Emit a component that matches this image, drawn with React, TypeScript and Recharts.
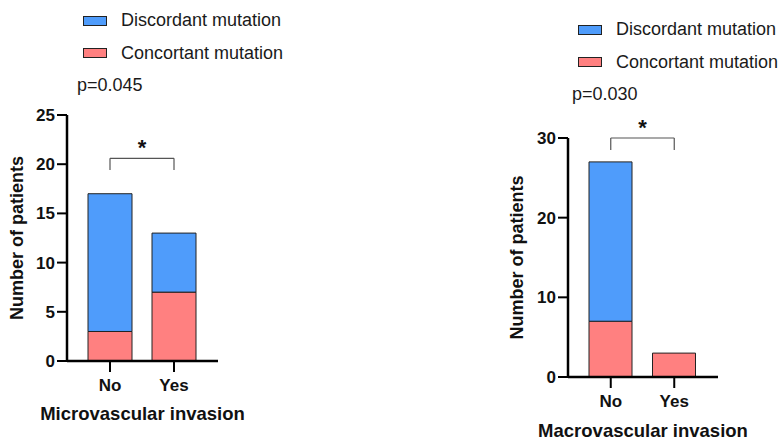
import React from "react";
import { BarChart, Bar, XAxis, YAxis, ReferenceLine } from "recharts";

const categories = ["No", "Yes"];

const microConcordant = [3, 7];
const microDiscordant = [14, 6];
const microTicks = [0, 5, 10, 15, 20, 25];

const macroConcordant = [7, 3];
const macroDiscordant = [20, 0];
const macroTicks = [0, 10, 20, 30];

// significance bracket: top of bracket and end of its legs, in axis units
const microBracket = [20.6, 19.4];
const macroBracket = [30, 28.5];

const FONT = '"Liberation Sans", Arial, sans-serif';
const BLUE = "#4f9cfb";
const PINK = "#ff8080";

const buildRows = (concordant: number[], discordant: number[]) =>
  categories.map((name, i) => ({ name, concordant: concordant[i], discordant: discordant[i] }));

function YLabel({ viewBox }: any) {
  const cx = viewBox.x + 23;
  const cy = viewBox.y + viewBox.height / 2;
  return (
    <text
      x={cx}
      y={cy}
      transform={`rotate(-90 ${cx} ${cy})`}
      textAnchor="middle"
      fontFamily={FONT}
      fontWeight="bold"
      fontSize={18}
      fill="#111"
    >
      Number of patients
    </text>
  );
}

function Legend({ left, top, pValue }: { left: number; top: number; pValue: string }) {
  const swatch = (color: string) => ({
    position: "absolute" as const,
    left: 0,
    width: 22,
    height: 8,
    background: color,
    border: "1px solid #222",
  });
  const text = {
    position: "absolute" as const,
    fontFamily: FONT,
    fontSize: 18,
    lineHeight: "18px",
    color: "#1a1a1a",
    whiteSpace: "nowrap" as const,
  };
  return (
    <div style={{ position: "absolute", left, top }}>
      <div style={{ ...swatch(BLUE), top: 3 }} />
      <div style={{ ...text, left: 38, top: -2 }}>Discordant mutation</div>
      <div style={{ ...swatch(PINK), top: 35 }} />
      <div style={{ ...text, left: 38, top: 31 }}>Concortant mutation</div>
      <div style={{ ...text, left: -6, top: 63 }}>{pValue}</div>
    </div>
  );
}

interface PanelProps {
  left: number;
  top: number;
  height: number;
  marginTop: number;
  marginBottom: number;
  axisWidth: number;
  barSize: number;
  titleOffset: number;
  concordant: number[];
  discordant: number[];
  ticks: number[];
  bracket: number[];
  title: string;
}

function Panel(p: PanelProps) {
  const data = buildRows(p.concordant, p.discordant);
  const max = p.ticks[p.ticks.length - 1];
  const [hi, lo] = p.bracket;
  return (
    <div style={{ position: "absolute", left: p.left, top: p.top }}>
      <BarChart
        width={270}
        height={p.height}
        data={data}
        margin={{ top: p.marginTop, right: 52, bottom: p.marginBottom, left: 0 }}
        style={{ overflow: "visible" }}
      >
        <XAxis
          dataKey="name"
          height={30}
          padding={{ left: 11, right: 12 }}
          tickSize={11}
          tickMargin={7}
          interval={0}
          axisLine={{ stroke: "#000", strokeWidth: 2.5 }}
          tickLine={{ stroke: "#000", strokeWidth: 2 }}
          tick={{ fontFamily: FONT, fontWeight: "bold", fontSize: 17, fill: "#111" }}
          label={{
            value: p.title,
            position: "bottom",
            offset: p.titleOffset,
            fontFamily: FONT,
            fontWeight: "bold",
            fontSize: 18.5,
            fill: "#111",
          }}
        />
        <YAxis
          width={p.axisWidth}
          domain={[0, max]}
          ticks={p.ticks}
          tickSize={10}
          tickMargin={2}
          allowDataOverflow
          axisLine={{ stroke: "#000", strokeWidth: 2.5 }}
          tickLine={{ stroke: "#000", strokeWidth: 2 }}
          tick={{ fontFamily: FONT, fontWeight: "bold", fontSize: 17, fill: "#111" }}
          label={<YLabel />}
        />
        <Bar dataKey="concordant" stackId="a" fill={PINK} stroke="#222" strokeWidth={1} barSize={p.barSize} isAnimationActive={false} />
        <Bar dataKey="discordant" stackId="a" fill={BLUE} stroke="#222" strokeWidth={1} barSize={p.barSize} isAnimationActive={false} />
        <ReferenceLine
          segment={[{ x: "No", y: hi }, { x: "Yes", y: hi }]}
          stroke="#555"
          strokeWidth={1.2}
          ifOverflow="visible"
          label={{ value: "*", position: "top", offset: 3, fontFamily: FONT, fontWeight: "bold", fontSize: 22, fill: "#111" }}
        />
        <ReferenceLine segment={[{ x: "No", y: hi }, { x: "No", y: lo }]} stroke="#555" strokeWidth={1.2} ifOverflow="visible" />
        <ReferenceLine segment={[{ x: "Yes", y: hi }, { x: "Yes", y: lo }]} stroke="#555" strokeWidth={1.2} ifOverflow="visible" />
      </BarChart>
    </div>
  );
}

export default function App() {
  return (
    <div style={{ position: "absolute", left: 0, top: 0, width: 782, height: 441, background: "#fff", overflow: "hidden" }}>
      <Legend left={83} top={13} pValue="p=0.045" />
      <Legend left={578} top={22} pValue="p=0.030" />
      <Panel
        left={0}
        top={100}
        height={340}
        marginTop={15}
        marginBottom={49}
        axisWidth={67}
        barSize={44}
        titleOffset={16}
        concordant={microConcordant}
        discordant={microDiscordant}
        ticks={microTicks}
        bracket={microBracket}
        title="Microvascular invasion"
      />
      <Panel
        left={500}
        top={100}
        height={341}
        marginTop={38}
        marginBottom={34}
        axisWidth={68}
        barSize={43}
        titleOffset={17}
        concordant={macroConcordant}
        discordant={macroDiscordant}
        ticks={macroTicks}
        bracket={macroBracket}
        title="Macrovascular invasion"
      />
    </div>
  );
}
